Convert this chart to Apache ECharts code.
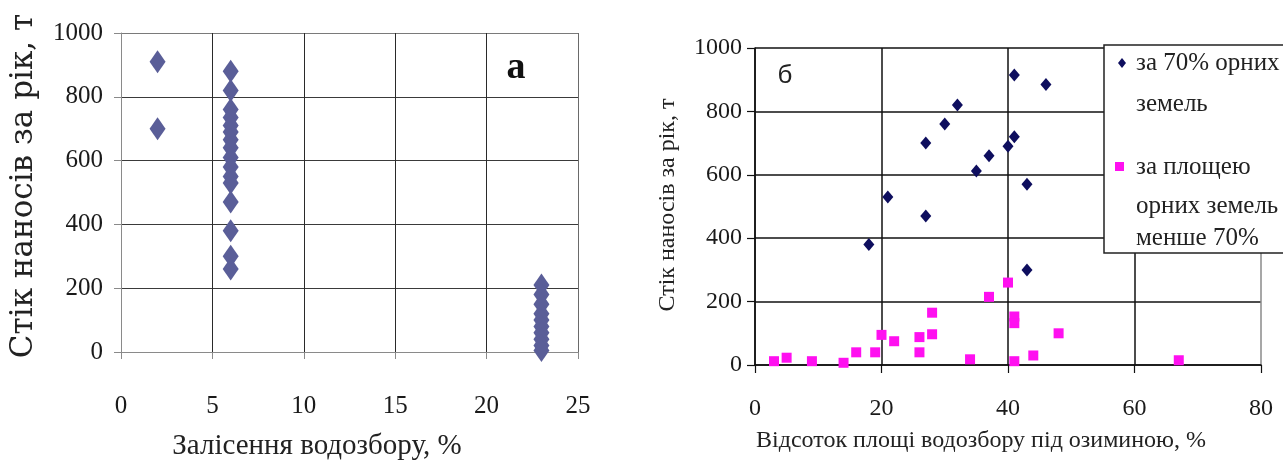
<!DOCTYPE html>
<html>
<head>
<meta charset="utf-8">
<script src="https://cdn.jsdelivr.net/npm/echarts@6/dist/echarts.min.js"></script>
<style>
html,body{margin:0;padding:0;background:#fff;}
#chart{width:1283px;height:467px;}
</style>
</head>
<body>
<div id="chart"></div>
<script>
// ---- Data ----
const yTitle = 'Стік наносів за рік, т';
const xTitleA = 'Залісення водозбору, %';
const xTitleB = 'Відсоток площі водозбору під озиминою, %';
const panelA = 'а';
const panelB = 'б';
const legendLines70 = ['за 70% орних', 'земель'];
const legendLinesLess = ['за площею', 'орних земель', 'менше 70%'];

// Panel а: [forest cover %, sediment runoff t/yr]
const forestPoints = [
  [2, 910], [2, 700],
  [6, 880], [6, 820], [6, 760], [6, 735], [6, 710], [6, 690], [6, 665], [6, 640],
  [6, 610], [6, 580], [6, 550], [6, 530], [6, 470], [6, 380], [6, 300], [6, 260],
  [23, 210], [23, 180], [23, 150], [23, 120], [23, 100], [23, 80], [23, 60],
  [23, 40], [23, 20], [23, 5]
];

// Panel б: [% of catchment under winter crops, sediment runoff t/yr]
const arable70 = [
  [41, 915], [46, 885], [32, 820], [30, 760], [27, 700], [41, 720], [40, 690],
  [37, 660], [35, 612], [43, 570], [21, 530], [27, 470], [18, 380], [43, 300]
];
const arableLess70 = [
  [3, 12], [5, 23], [9, 12], [14, 7], [16, 40], [19, 40], [20, 95], [22, 75],
  [26, 88], [26, 40], [28, 97], [28, 165], [34, 18], [37, 215], [40, 260],
  [41, 153], [41, 132], [41, 12], [44, 30], [48, 100], [67, 15]
];

const xTicksA = {min: 0, max: 25, interval: 5};
const xTicksB = {min: 0, max: 80, interval: 20};
const yTicks = {min: 0, max: 1000, interval: 200};

// ---- Chart ----
const SERIF = "'Liberation Serif', 'Times New Roman', serif";
const chart = echarts.init(document.getElementById('chart'), null, {renderer: 'canvas'});
const plain = v => String(v);

function txt(x, y, text, font, extra) {
  return Object.assign({type: 'text', x: x, y: y, z: 21,
    style: {text: text, font: font, fill: '#222', textAlign: 'left', textVerticalAlign: 'middle'}}, extra || {});
}
function ctext(x, y, text, font, rot, fill) {
  return {type: 'text', x: x, y: y, z: 21, rotation: rot || 0,
    style: {text: text, font: font, fill: fill || '#222', textAlign: 'center', textVerticalAlign: 'middle'}};
}

const legendFont = "25px " + SERIF;

const option = {
  backgroundColor: '#ffffff',
  animation: false,
  grid: [
    {left: 121, top: 33, width: 457, height: 319, show: false},
    {left: 755, top: 48, width: 506, height: 317, show: false}
  ],
  xAxis: [
    {
      type: 'value', gridIndex: 0, min: xTicksA.min, max: xTicksA.max, interval: xTicksA.interval,
      axisLine: {show: true, lineStyle: {color: '#8a8a8a', width: 1}},
      axisTick: {show: true, length: 7, inside: false, lineStyle: {color: '#8a8a8a'}},
      axisLabel: {margin: 42, fontFamily: SERIF, fontSize: 25, color: '#1a1a1a', formatter: plain},
      splitLine: {show: true, lineStyle: {color: ['#8a8a8a', '#2a2a2a', '#2a2a2a', '#2a2a2a', '#2a2a2a', '#6a6a6a'], width: 1}}
    },
    {
      type: 'value', gridIndex: 1, min: xTicksB.min, max: xTicksB.max, interval: xTicksB.interval,
      axisLine: {show: true, lineStyle: {color: '#111', width: 1.5}},
      axisTick: {show: true, length: 8, inside: false, lineStyle: {color: '#111', width: 1.2}},
      axisLabel: {margin: 32, fontFamily: SERIF, fontSize: 24, color: '#1a1a1a', formatter: plain},
      splitLine: {show: true, lineStyle: {color: ['#111', '#111', '#111', '#111', '#8a8a8a'], width: 1.5}}
    }
  ],
  yAxis: [
    {
      type: 'value', gridIndex: 0, min: yTicks.min, max: yTicks.max, interval: yTicks.interval,
      axisLine: {show: true, lineStyle: {color: '#8a8a8a', width: 1}},
      axisTick: {show: true, length: 7, inside: false, lineStyle: {color: '#8a8a8a'}},
      axisLabel: {margin: 18, fontFamily: SERIF, fontSize: 25, color: '#1a1a1a', formatter: plain},
      splitLine: {show: true, lineStyle: {color: ['#8a8a8a', '#3a3a3a', '#3a3a3a', '#3a3a3a', '#3a3a3a', '#7a7a7a'], width: 1}}
    },
    {
      type: 'value', gridIndex: 1, min: yTicks.min, max: yTicks.max, interval: yTicks.interval,
      axisLine: {show: true, lineStyle: {color: '#111', width: 1.5}},
      axisTick: {show: true, length: 8, inside: false, lineStyle: {color: '#111', width: 1.2}},
      axisLabel: {margin: 13, fontFamily: SERIF, fontSize: 24, color: '#1a1a1a', formatter: plain},
      splitLine: {show: true, lineStyle: {color: '#111', width: 1.5}}
    }
  ],
  series: [
    {
      type: 'scatter', xAxisIndex: 0, yAxisIndex: 0, data: forestPoints,
      symbol: 'diamond', symbolSize: [16, 23],
      itemStyle: {color: '#5a5e98', opacity: 1}
    },
    {
      type: 'scatter', xAxisIndex: 1, yAxisIndex: 1, data: arable70,
      symbol: 'diamond', symbolSize: [11, 13], itemStyle: {color: '#0e0e5e', opacity: 1}
    },
    {
      type: 'scatter', xAxisIndex: 1, yAxisIndex: 1, data: arableLess70,
      symbol: 'rect', symbolSize: [10, 10], itemStyle: {color: '#ff10f0', opacity: 1}
    }
  ],
  graphic: [
    // axis titles
    ctext(24, 186, yTitle, "31px 'DejaVu Serif', " + SERIF, Math.PI / 2),
    ctext(668, 205, yTitle, "24px " + SERIF, Math.PI / 2),
    ctext(317, 446, xTitleA, "29px " + SERIF),
    ctext(981, 441, xTitleB, "24px " + SERIF),
    // panel labels
    ctext(516, 68, panelA, "bold 38px " + SERIF, 0, '#111'),
    ctext(785, 76, panelB, "26px 'Liberation Sans', Arial, sans-serif"),
    // legend box
    {type: 'rect', shape: {x: 1104, y: 45, width: 200, height: 208}, z: 20,
      style: {fill: '#fff', stroke: '#222', lineWidth: 1.5}},
    {type: 'polygon', shape: {points: [[1122, 58], [1126, 63], [1122, 68], [1118, 63]]}, z: 21,
      style: {fill: '#0e0e5e'}},
    {type: 'rect', shape: {x: 1115, y: 162, width: 9, height: 9}, z: 21,
      style: {fill: '#ff10f0'}},
    txt(1136, 63, legendLines70[0], legendFont),
    txt(1136, 104, legendLines70[1], legendFont),
    txt(1136, 167, legendLinesLess[0], legendFont),
    txt(1136, 206, legendLinesLess[1], legendFont),
    txt(1136, 238, legendLinesLess[2], legendFont)
  ]
};
chart.setOption(option);
</script>
</body>
</html>
